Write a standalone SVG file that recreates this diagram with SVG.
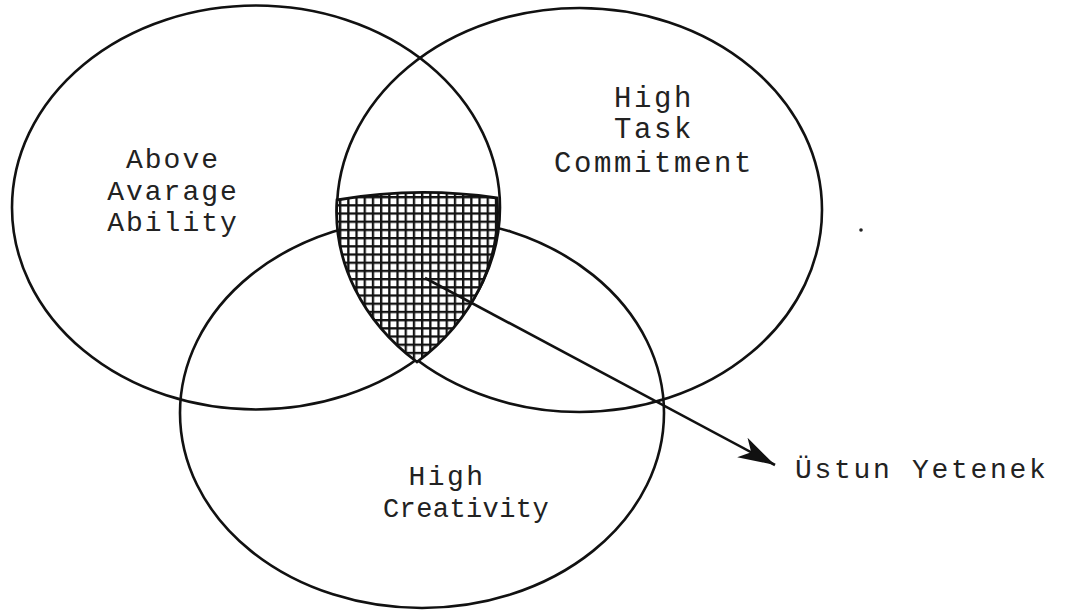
<svg xmlns="http://www.w3.org/2000/svg" width="1070" height="616" viewBox="0 0 1070 616">
  <style>
    .ring { fill: none; stroke: #111; stroke-width: 2.6; }
    .lbl { font-family: "Liberation Mono", "DejaVu Sans Mono", monospace; fill: #222; text-anchor: middle; }
    .hatch { fill: url(#grid); stroke: #111; stroke-width: 2.8; }
  </style>
  <defs>
    <pattern id="grid" patternUnits="userSpaceOnUse" x="339" y="196" width="8.2" height="8.2">
      <rect width="8.2" height="8.2" fill="#fff"/>
      <rect x="0" y="0" width="2.3" height="8.2" fill="#111"/>
      <rect x="0" y="0" width="8.2" height="2.3" fill="#111"/>
    </pattern>
    <marker id="head" markerUnits="userSpaceOnUse" viewBox="0 0 40 26" refX="38" refY="13" markerWidth="40" markerHeight="26" orient="auto">
      <path d="M38,13 L1,2 L11,13 L1,24 Z" fill="#111"/>
    </marker>
  </defs>
  <rect width="1070" height="616" fill="#fff"/>

  <g id="ability">
    <ellipse class="ring" cx="256" cy="207.5" rx="244" ry="202"/>
    <text class="lbl" x="173" y="168" font-size="28" letter-spacing="2">Above</text>
    <text class="lbl" x="173" y="200" font-size="28" letter-spacing="2">Avarage</text>
    <text class="lbl" x="173" y="231" font-size="28" letter-spacing="2">Ability</text>
  </g>

  <g id="commitment">
    <ellipse class="ring" cx="579.5" cy="210" rx="242.5" ry="202"/>
    <text class="lbl" x="654" y="107" font-size="29" letter-spacing="2.6">High</text>
    <text class="lbl" x="654" y="138" font-size="29" letter-spacing="2.6">Task</text>
    <text class="lbl" x="654" y="172" font-size="29" letter-spacing="2.6">Commitment</text>
  </g>

  <g id="creativity">
    <ellipse class="ring" cx="422" cy="413" rx="242" ry="195"/>
    <text class="lbl" x="447" y="485" font-size="28" letter-spacing="2.5">High</text>
    <text class="lbl" x="466" y="517" font-size="27" letter-spacing="0.4">Creativity</text>
  </g>

  <g id="gifted-region">
    <path class="hatch" d="M337,200 Q417,186 497,198 A244 202 0 0 1 417 362 A242.5 202 0 0 1 337 200 Z"/>
  </g>

  <g id="connectors">
    <line x1="425" y1="278" x2="775" y2="465" stroke="#111" stroke-width="2.6" marker-end="url(#head)"/>
  </g>

  <g id="gifted-label">
    <text class="lbl" x="795" y="478" font-size="28" letter-spacing="2.7" style="text-anchor:start">Üstun Yetenek</text>
  </g>

  <circle cx="861" cy="230" r="1.8" fill="#222"/>
</svg>
